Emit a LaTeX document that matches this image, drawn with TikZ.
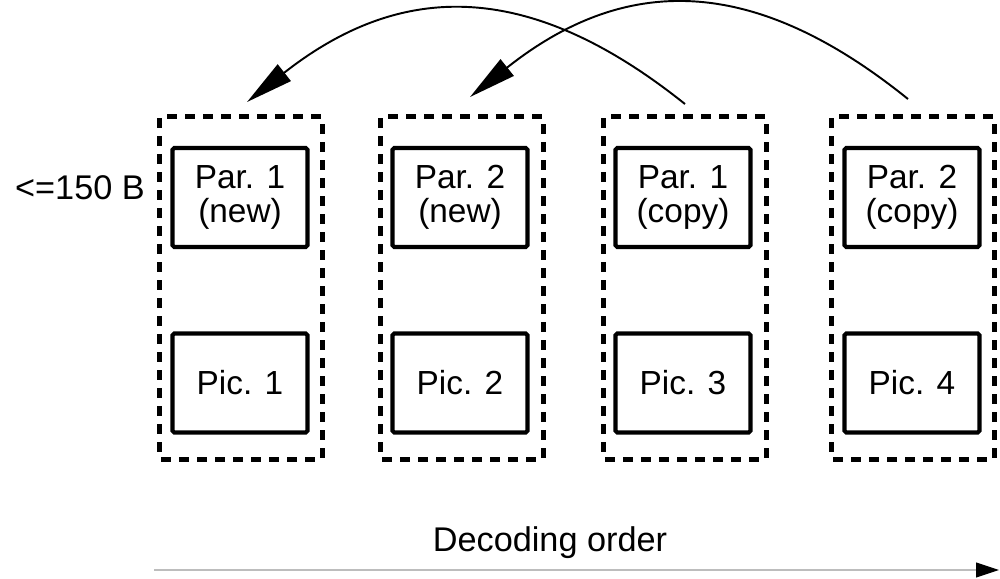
\documentclass[tikz,border=0pt]{standalone}
\usepackage{fontspec}
\setmainfont{Liberation Sans}
\usepackage{tikz}
\usetikzlibrary{arrows.meta,positioning,calc}
\definecolor{ink}{HTML}{000000}
\definecolor{rulegray}{HTML}{BDBDBD}
\tikzset{
  grpframe/.style={draw=ink,line width=2.8pt,dash pattern=on 0.19cm off 0.17cm,
                   rounded corners=1pt,minimum width=3.26cm,minimum height=6.86cm,
                   inner sep=0pt},
  unitbox/.style={draw=ink,line width=2.3pt,rounded corners=1pt,align=center,
                  minimum width=2.70cm,minimum height=1.98cm,inner sep=0pt,
                  font=\fontsize{19}{19}\selectfont},
  plain/.style={font=\fontsize{19.5}{22}\selectfont,inner sep=0pt},
  reusearr/.style={-{Triangle[length=0.95cm,width=0.42cm]},line width=1.1pt,
                   draw=ink},
  orderarr/.style={-{Triangle[length=0.46cm,width=0.30cm,color=ink,fill=ink]},
                   line width=0.6pt,draw=rulegray}
}
\begin{document}
\begin{tikzpicture}[x=1cm,y=1cm]
    \useasboundingbox (0,0) rectangle (20,11.58);
    % dashed groups
    \node[grpframe] (fr1) at (4.82,5.82) {};
    \node[grpframe] (fr2) at (9.24,5.82) {};
    \node[grpframe] (fr3) at (13.70,5.82) {};
    \node[grpframe] (fr4) at (18.26,5.82) {};

    \node[unitbox] (par1) at (4.80,7.63) {Par. 1\\(new)};
    \node[unitbox] (par2) at (9.20,7.63) {Par. 2\\(new)};
    \node[unitbox] (par3) at (13.66,7.63) {Par. 1\\(copy)};
    \node[unitbox] (par4) at (18.24,7.63) {Par. 2\\(copy)};

    \node[unitbox] (pic1) at (4.80,3.92) {Pic. 1};
    \node[unitbox] (pic2) at (9.20,3.92) {Pic. 2};
    \node[unitbox] (pic3) at (13.66,3.92) {Pic. 3};
    \node[unitbox] (pic4) at (18.24,3.92) {Pic. 4};

    \node[plain] (size) at (1.60,7.82) {<=150 B};

    % copies point back
    \draw[reusearr] ([yshift=0.2cm]fr3.north)
      .. controls +(-3.1,2.48) and +(3.1,2.44) .. ([xshift=0.12cm,yshift=0.24cm]fr1.north);
    \draw[reusearr] ([xshift=-0.1cm,yshift=0.3cm]fr4.north)
      .. controls +(-3.1,2.5) and +(3.1,2.46) .. ([xshift=0.16cm,yshift=0.34cm]fr2.north);

    % decoding order
    \node[plain] (order) at (11.0,0.72) {Decoding order};
    \coordinate (ordstart) at (3.08,0.18);
    \coordinate (ordend) at (19.98,0.18);
    \draw[orderarr] (ordstart) -- (ordend);
  \end{tikzpicture}
\end{document}
